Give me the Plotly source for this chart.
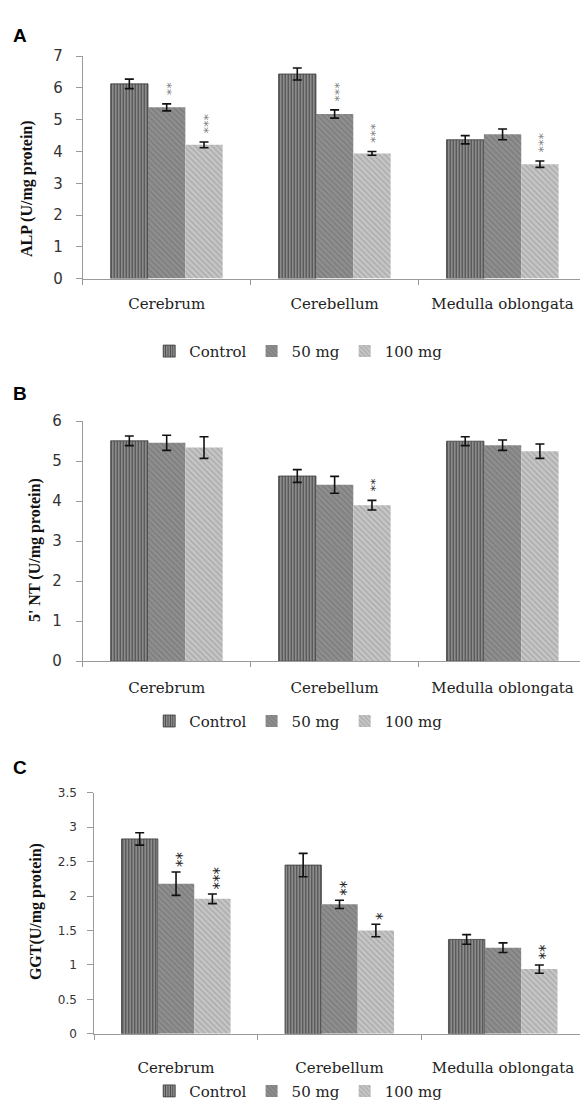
import plotly.graph_objects as go

# ---------------- data ----------------
categories = ["Cerebrum", "Cerebellum", "Medulla oblongata"]
series_names = ["Control", "50 mg", "100 mg"]

alp_control = [6.13, 6.44, 4.37]
alp_control_err = [0.15, 0.19, 0.13]
alp_50 = [5.39, 5.18, 4.54]
alp_50_err = [0.11, 0.13, 0.17]
alp_100 = [4.21, 3.94, 3.60]
alp_100_err = [0.09, 0.06, 0.10]

nt_control = [5.51, 4.63, 5.50]
nt_control_err = [0.12, 0.16, 0.11]
nt_50 = [5.46, 4.41, 5.40]
nt_50_err = [0.19, 0.21, 0.13]
nt_100 = [5.34, 3.90, 5.25]
nt_100_err = [0.27, 0.12, 0.18]

ggt_control = [2.83, 2.45, 1.37]
ggt_control_err = [0.09, 0.17, 0.07]
ggt_50 = [2.18, 1.88, 1.25]
ggt_50_err = [0.17, 0.06, 0.07]
ggt_100 = [1.96, 1.50, 0.94]
ggt_100_err = [0.07, 0.09, 0.06]

alp_sig_50 = ["**", "***", ""]
alp_sig_100 = ["***", "***", "***"]
nt_sig_100 = ["", "**", ""]
ggt_sig_50 = ["**", "**", ""]
ggt_sig_100 = ["***", "*", "**"]

alp_ticks = [0, 1, 2, 3, 4, 5, 6, 7]
nt_ticks = [0, 1, 2, 3, 4, 5, 6]
ggt_ticks = [0, 0.5, 1, 1.5, 2, 2.5, 3, 3.5]

# ---------------- styles ----------------
W, H = 580, 1109
BARGAP = 0.333
SERIF = "DejaVu Serif"
BSERIF = "Liberation Serif"
SANS = "DejaVu Sans"

styles = [
    dict(bg="#a2a2a2", fg="#474747", shape="|", size=3, sol=0.5, line="#3a3a3a", lw=0.8),
    dict(bg="#8f8f8f", fg="#7b7b7b", shape="\\", size=4, sol=0.35, line="#8f8f8f", lw=0),
    dict(bg="#c6c6c6", fg="#a9a9a9", shape="\\", size=4, sol=0.35, line="#c6c6c6", lw=0),
]

def py(px):
    return 1 - px / H

def pxx(px):
    return px / W

panels = [
    dict(vals=[alp_control, alp_50, alp_100], errs=[alp_control_err, alp_50_err, alp_100_err],
         sig=[None, alp_sig_50, alp_sig_100], ticks=alp_ticks, yr=[0, 7],
         ydom=[py(274), py(48)], xdom=[pxx(82.7), 1], xr=[-0.5, 2.461],
         tickfont=15, standoff=10, letter="A", lety=27, title="ALP (U/mg protein)",
         tx=27, ty=183, legy=348, starcol="#777777", starsize=15, stargap=6, catstand=11),
    dict(vals=[nt_control, nt_50, nt_100], errs=[nt_control_err, nt_50_err, nt_100_err],
         sig=[None, None, nt_sig_100], ticks=nt_ticks, yr=[0, 6],
         ydom=[py(663), py(419)], xdom=[pxx(82.7), 1], xr=[-0.5, 2.461],
         tickfont=15, standoff=11, letter="B", lety=391, title="5' NT (U/mg protein)",
         tx=35, ty=550, legy=724, starcol="#222222", starsize=15, stargap=6, catstand=13),
    dict(vals=[ggt_control, ggt_50, ggt_100], errs=[ggt_control_err, ggt_50_err, ggt_100_err],
         sig=[None, ggt_sig_50, ggt_sig_100], ticks=ggt_ticks, yr=[0, 3.5],
         ydom=[py(1041.7), py(796.7)], xdom=[pxx(94.3), 1], xr=[-0.5, 2.471],
         tickfont=12, standoff=8, letter="C", lety=771, title="GGT(U/mg protein)",
         tx=36, ty=918, legy=1100, starcol="#222222", starsize=17, stargap=2, catstand=20),
]

fig = go.Figure()
annotations = []
layout = {}
bar_w = (1 - BARGAP) / 3

for p_i, p in enumerate(panels):
    sfx = "" if p_i == 0 else str(p_i + 1)
    xa, ya = "x" + sfx, "y" + sfx
    leg = "legend" + sfx
    for s_i, name in enumerate(series_names):
        st = styles[s_i]
        fig.add_trace(go.Bar(
            x=categories, y=p["vals"][s_i], name=name,
            xaxis=xa, yaxis=ya, legend=leg,
            marker=dict(color=st["bg"],
                        line=dict(color=st["line"], width=st["lw"]),
                        pattern=dict(shape=st["shape"], fgcolor=st["fg"], bgcolor=st["bg"],
                                     size=st["size"], solidity=st["sol"], fillmode="replace")),
            error_y=dict(type="data", array=p["errs"][s_i], color="#111111",
                         thickness=1.6, width=4.5),
            showlegend=True,
        ))
        sig = p["sig"][s_i]
        if sig:
            for c_i, txt in enumerate(sig):
                if not txt:
                    continue
                annotations.append(dict(
                    x=c_i + (s_i - 1) * bar_w, y=p["vals"][s_i][c_i] + p["errs"][s_i][c_i],
                    xref=xa, yref=ya, text=txt, showarrow=False, textangle=90,
                    yanchor="bottom", xanchor="center", yshift=p["stargap"],
                    font=dict(family=SANS, size=p["starsize"] - 2, color=p["starcol"]),
                ))
    layout["xaxis" + sfx] = dict(
        domain=p["xdom"], anchor=ya, type="category", range=p["xr"],
        showline=True, linecolor="#9a9a9a", linewidth=1,
        ticks="outside", tickson="boundaries", ticklen=5, tickcolor="#9a9a9a",
        tickfont=dict(family=SERIF, size=15, color="#222222"),
        ticklabelstandoff=p["catstand"], showgrid=False, zeroline=False, fixedrange=True,
    )
    layout["yaxis" + sfx] = dict(
        domain=p["ydom"], anchor=xa, range=p["yr"], tickvals=p["ticks"],
        showline=True, linecolor="#9a9a9a", linewidth=1,
        ticks="outside", ticklen=6, tickcolor="#9a9a9a",
        tickfont=dict(family=SANS, size=p["tickfont"], color="#333333"),
        ticklabelstandoff=p["standoff"], showgrid=False, zeroline=False, fixedrange=True,
    )
    layout[leg] = dict(
        orientation="h", x=0.515, xanchor="center", y=py(p["legy"]), yanchor="middle",
        font=dict(family=SERIF, size=15, color="#222222"), bgcolor="rgba(0,0,0,0)",
        traceorder="normal",
    )
    annotations.append(dict(
        x=pxx(20), y=py(p["lety"]), xref="paper", yref="paper", text="<b>%s</b>" % p["letter"],
        showarrow=False, xanchor="center", yanchor="middle",
        font=dict(family="Liberation Sans", size=19, color="#000000"),
    ))
    annotations.append(dict(
        x=pxx(p["tx"]), y=py(p["ty"]), xref="paper", yref="paper", text="<b>%s</b>" % p["title"],
        showarrow=False, textangle=-90, xanchor="center", yanchor="middle",
        font=dict(family=BSERIF, size=16, color="#111111"),
    ))

fig.update_layout(
    width=W, height=H, margin=dict(l=0, r=0, t=0, b=0),
    paper_bgcolor="white", plot_bgcolor="white",
    barmode="group", bargap=BARGAP, bargroupgap=0,
    annotations=annotations, **layout,
)

fig.write_html("out.html")
